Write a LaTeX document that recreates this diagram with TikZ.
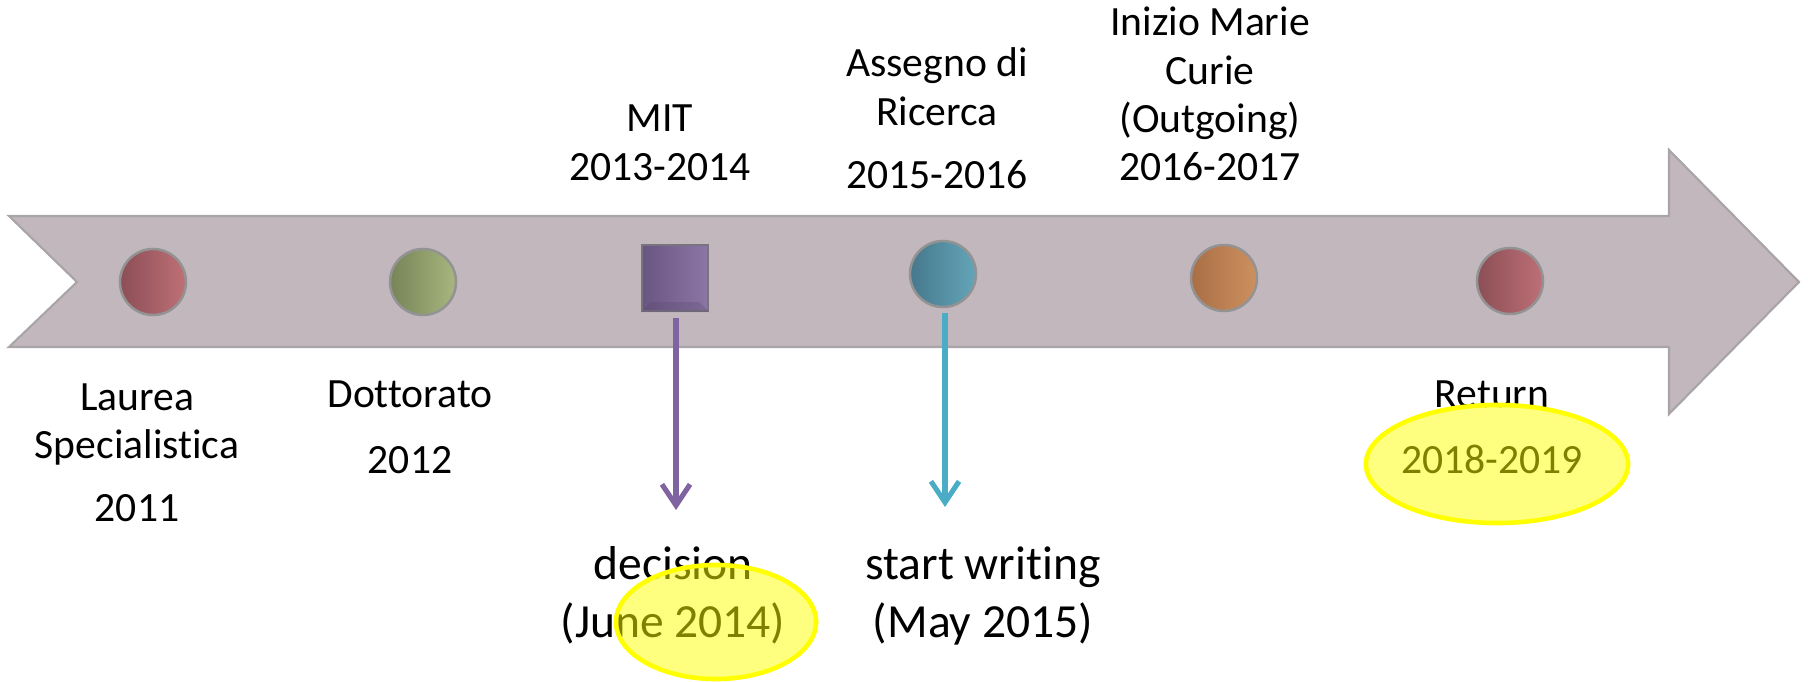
\documentclass[tikz,border=0pt]{standalone}
\usepackage{fontspec}
\setmainfont{Carlito}[Ligatures={NoCommon,TeX}]
\usetikzlibrary{arrows.meta,shapes.geometric,calc}
\definecolor{band}{RGB}{193,183,189}
\definecolor{bandedge}{RGB}{168,164,167}
\definecolor{redD}{RGB}{140,78,86}\definecolor{redL}{RGB}{190,112,118}
\definecolor{grnD}{RGB}{118,132,88}\definecolor{grnL}{RGB}{168,182,126}
\definecolor{bluD}{RGB}{70,120,140}\definecolor{bluL}{RGB}{100,165,185}
\definecolor{orgD}{RGB}{170,110,70}\definecolor{orgL}{RGB}{205,145,95}
\definecolor{purD}{RGB}{105,85,130}\definecolor{purL}{RGB}{140,118,165}
\definecolor{purA}{RGB}{128,100,162}
\definecolor{bluA}{RGB}{75,172,198}
\definecolor{hlY}{RGB}{255,255,0}
\tikzset{
  dot/.style={circle,inner sep=0pt,minimum size=0.66cm,draw=gray!85,line width=0.7pt},
  sqbox/.style={rectangle,inner sep=0pt,minimum size=0.66cm,draw=gray!70!purD,line width=0.7pt,left color=purD,right color=purL},
  lbl/.style={inner sep=0pt,anchor=base,font={\fontsize{11.84pt}{13.66pt}\selectfont}},
  biglbl/.style={inner sep=0pt,anchor=base,font={\fontsize{13.52pt}{16.5pt}\selectfont}},
  darrow/.style={line width=1.45pt,-{Straight Barb[length=6pt,width=8pt]}},
  hl/.style={ellipse,inner sep=0pt,draw=hlY,line width=1.3pt,fill=hlY,fill opacity=0.5,draw opacity=1}
}
\begin{document}
\begin{tikzpicture}[x=0.01cm,y=-0.01cm]
\useasboundingbox (0,0) rectangle (1808,682);
% timeline band
\fill[band,draw=bandedge,line width=0.6pt]
  (9,216) -- (1669,216) -- (1669,150) -- (1799,282) -- (1669,414) -- (1669,347) -- (9,347) -- (77,282) -- cycle;
% markers
\node[dot,left color=redD,right color=redL] (n1) at (153,282) {};
\node[dot,left color=grnD,right color=grnL] (n2) at (423,282) {};
\node[sqbox] (n3) at (675,278) {};
\node[dot,left color=bluD,right color=bluL] (n4) at (943,274) {};
\node[dot,left color=orgD,right color=orgL] (n5) at (1224,278) {};
\node[dot,left color=redD,right color=redL] (n6) at (1510,281) {};
% bevel of the square
\fill[purD!80!black,opacity=0.25] (n3.south west) -- ++(0.1cm,0.1cm) -- ($(n3.south east)+(-0.1cm,0.1cm)$) -- (n3.south east) -- cycle;
% down arrows
\coordinate (t3) at (676,510);
\coordinate (t4) at (945,507);
\draw[darrow,purA,shorten <=0.06cm] (n3.south -| t3) -- (t3);
\draw[darrow,bluA,shorten <=0.05cm] (n4.south -| t4) -- (t4);
% labels
\node[lbl] (l1) at (137,410) {\begin{tabular}[t]{@{}c@{}}Laurea\\Specialistica\\[4.27pt]2011\end{tabular}};
\node[lbl] (l2) at (410,407) {\begin{tabular}[t]{@{}c@{}}Dottorato\\[5.12pt]2012\end{tabular}};
\node[lbl] (l3) at (660,132) {\begin{tabular}[t]{@{}c@{}}MIT\\2013-2014\end{tabular}};
\node[lbl] (l4) at (937,77) {\begin{tabular}[t]{@{}c@{}}Assegno di\\Ricerca\\[4.27pt]2015-2016\end{tabular}};
\node[lbl] (l5) at (1210,36) {\begin{tabular}[t]{@{}c@{}}Inizio Marie\\Curie\\(Outgoing)\\2016-2017\end{tabular}};
\node[lbl] (l6) at (1492,407) {\begin{tabular}[t]{@{}c@{}}Return\\[5.12pt]2018-2019\end{tabular}};
\node[biglbl] (d1) at (673,579) {\begin{tabular}[t]{@{}c@{}}decision\\(June 2014)\end{tabular}};
\node[biglbl] (d2) at (983,579) {\begin{tabular}[t]{@{}c@{}}start writing\\(May 2015)\end{tabular}};
% highlights
\node[hl,minimum width=2.0cm,minimum height=1.14cm] (h1) at (716,622) {};
\node[hl,minimum width=2.62cm,minimum height=1.18cm] (h2) at (1497,464) {};
\end{tikzpicture}
\end{document}
